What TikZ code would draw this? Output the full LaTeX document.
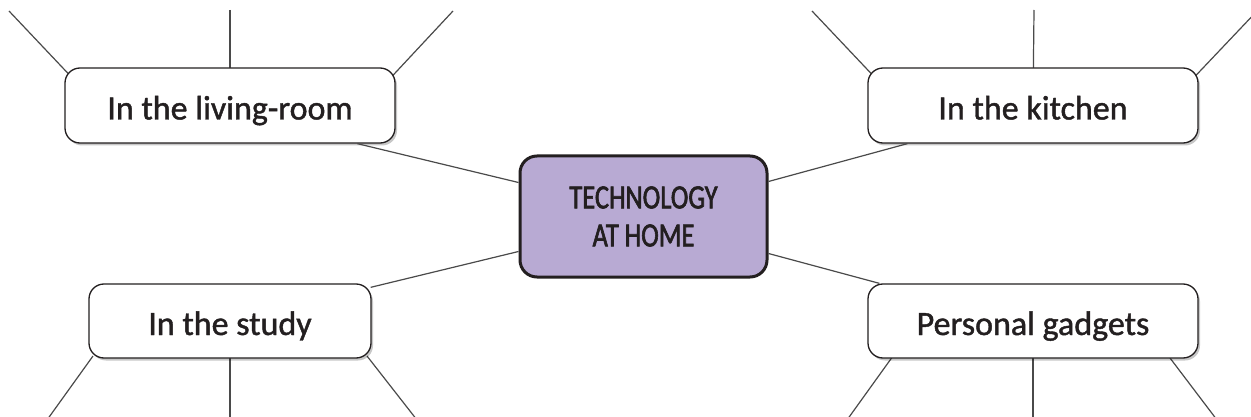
\documentclass[tikz,border=0pt]{standalone}
\usepackage{fontspec}
\setmainfont{Carlito}[FakeBold=1.2]
\newfontfamily\techfont{Carlito}[FakeStretch=0.78, FakeBold=1.8]
\usetikzlibrary{calc,shadows}
\definecolor{inkdark}{HTML}{231F20}
\definecolor{linegray}{HTML}{4A4A4A}
\definecolor{lavender}{HTML}{B8AAD3}
\tikzset{
  branch/.style={draw=inkdark, line width=1.3pt, rounded corners=15pt, fill=white,
    inner sep=0pt, text height=28pt, text depth=0pt, text=inkdark,
    font=\fontsize{34}{38}\selectfont,
    drop shadow={shadow xshift=2pt, shadow yshift=-2.5pt, opacity=0.22, fill=black}},
  hub/.style={draw=inkdark, line width=3pt, rounded corners=17pt, fill=lavender,
    inner sep=0pt, text=inkdark, align=center,
    font=\techfont\fontsize{34}{38}\selectfont},
  twig/.style={draw=linegray, line width=1.2pt}
}
\begin{document}
\begin{tikzpicture}[x=1pt,y=-1pt]
\clip (0,0) rectangle (1251,417);
\fill[white] (0,0) rectangle (1251,417);
% free ends
\coordinate (lrA) at (9,11);
\coordinate (lrB) at (230,10);
\coordinate (lrC) at (453,11);
\coordinate (kiA) at (812,11);
\coordinate (kiB) at (1034,10);
\coordinate (kiC) at (1258,10);
\coordinate (stA) at (47,420);
\coordinate (stB) at (230,420);
\coordinate (stC) at (417,420);
\coordinate (gaA) at (847,420);
\coordinate (gaB) at (1033,420);
\coordinate (gaC) at (1217,420);
% box positions
\coordinate (lrP) at (230,105.5);
\coordinate (kiP) at (1033,105.5);
\coordinate (stP) at (230,321);
\coordinate (gaP) at (1033,321);
\coordinate (teP) at (643.5,214.5);
% connectors drawn first, boxes on top
\draw[twig] (lrA) -- ($(lrP)+(-160,-30)$);
\draw[twig] (lrB) -- (lrP);
\draw[twig] (lrC) -- ($(lrP)+(160,-27)$);
\draw[twig] (kiA) -- ($(kiP)+(-160,-30)$);
\draw[twig] (kiB) -- (kiP);
\draw[twig] (kiC) -- ($(kiP)+(160,-27)$);
\draw[twig] (stA) -- ($(stP)+(-137,35)$);
\draw[twig] (stB) -- (stP);
\draw[twig] (stC) -- ($(stP)+(137,35)$);
\draw[twig] (gaA) -- ($(gaP)+(-140,35)$);
\draw[twig] (gaB) -- (gaP);
\draw[twig] (gaC) -- ($(gaP)+(137,37)$);
% boxes
\node[branch, minimum width=330pt, minimum height=75pt] (lr) at (lrP) {In the living-room};
\node[branch, minimum width=330pt, minimum height=75pt] (ki) at (kiP) {In the kitchen};
\node[branch, minimum width=282pt, minimum height=74pt] (st) at (stP) {In the study};
\node[branch, minimum width=330pt, minimum height=74pt] (ga) at (gaP) {Personal gadgets};
\node[hub, minimum width=247pt, minimum height=121pt, yshift=-2pt] (te) at (teP) {TECHNOLOGY\\AT HOME};
% hub connectors
\draw[twig] ($(lr.south west)+(293,0)$) -- ($(te.north west)+(0,28)$);
\draw[twig] ($(ki.south west)+(40,0)$) -- ($(te.north east)+(0,27)$);
\draw[twig] ($(st.north east)+(-1,4)$) -- ($(te.south west)+(0,-27)$);
\draw[twig] ($(ga.north west)+(12,0)$) -- ($(te.south east)+(0,-25)$);
\end{tikzpicture}
\end{document}
